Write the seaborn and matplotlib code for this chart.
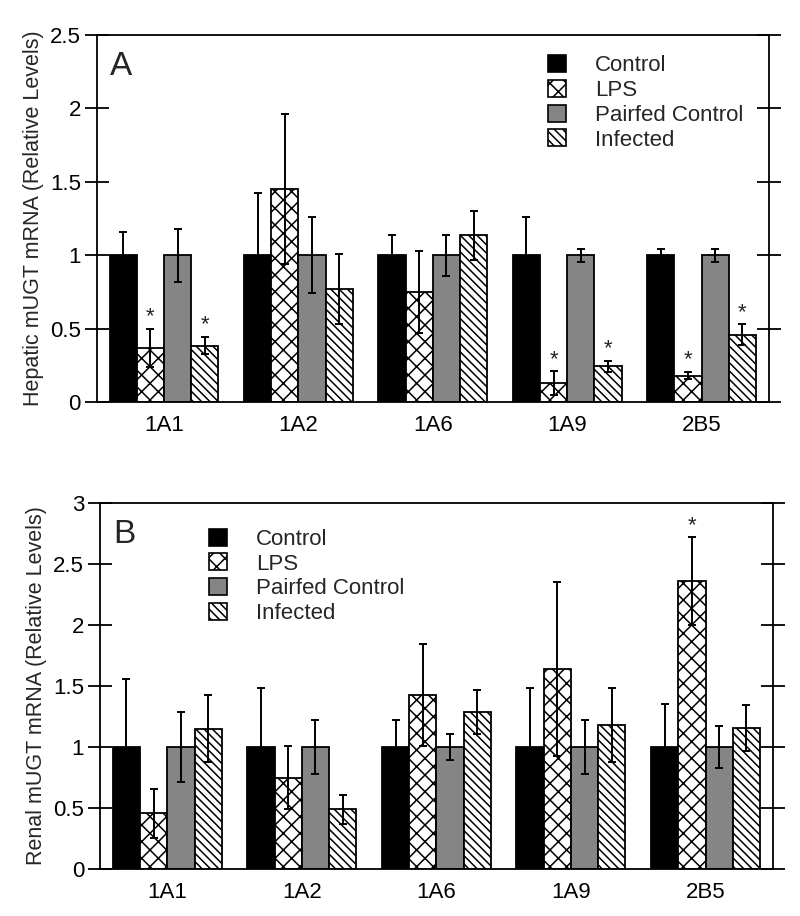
import numpy as np
import pandas as pd
import matplotlib
matplotlib.use("Agg")
import matplotlib.pyplot as plt
from matplotlib.patches import Patch
import seaborn as sns

# gene labels and treatment groups
genes = ["1A1", "1A2", "1A6", "1A9", "2B5"]
groups = ["Control", "LPS", "Pairfed Control", "Infected"]

# panel A: hepatic
hep_control = [1.0, 1.0, 1.0, 1.0, 1.0]
hep_control_err = [0.16, 0.42, 0.135, 0.26, 0.04]
hep_lps = [0.37, 1.45, 0.75, 0.13, 0.18]
hep_lps_err = [0.13, 0.51, 0.28, 0.08, 0.025]
hep_pairfed = [1.0, 1.0, 1.0, 1.0, 1.0]
hep_pairfed_err = [0.18, 0.26, 0.14, 0.045, 0.045]
hep_infected = [0.385, 0.77, 1.135, 0.245, 0.46]
hep_infected_err = [0.06, 0.235, 0.165, 0.038, 0.07]
hep_star_lps = ["1A1", "1A9", "2B5"]
hep_star_infected = ["1A1", "1A9", "2B5"]

# panel B: renal
ren_control = [1.0, 1.0, 1.0, 1.0, 1.0]
ren_control_err = [0.56, 0.48, 0.225, 0.48, 0.35]
ren_lps = [0.455, 0.75, 1.425, 1.64, 2.36]
ren_lps_err = [0.2, 0.26, 0.42, 0.71, 0.36]
ren_pairfed = [1.0, 1.0, 1.0, 1.0, 1.0]
ren_pairfed_err = [0.29, 0.225, 0.105, 0.225, 0.175]
ren_infected = [1.15, 0.49, 1.29, 1.18, 1.155]
ren_infected_err = [0.275, 0.12, 0.18, 0.305, 0.19]
ren_star_lps = ["2B5"]
ren_star_infected = []

colors = ["black", "white", "#858585", "white"]
hatches = [None, "xx", None, "\\\\\\\\"]

sns.set_style("ticks")
plt.rcParams["font.family"] = ["Liberation Sans", "DejaVu Sans"]
plt.rcParams["hatch.linewidth"] = 1.1
plt.rcParams["hatch.color"] = "black"


def draw_panel(ax, vals, errs, stars, ymax, yticks, ylabel, letter, leg_pos):
    df = pd.DataFrame({
        "gene": genes * 4,
        "group": [g for g in groups for _ in genes],
        "value": sum(vals, []),
        "err": sum(errs, []),
    })
    sns.barplot(data=df, x="gene", y="value", hue="group", order=genes,
                hue_order=groups, palette=colors, errorbar=None,
                width=0.81, gap=0, edgecolor="black", linewidth=1.3,
                legend=False, ax=ax)
    bar_conts = list(ax.containers)
    for i, cont in enumerate(bar_conts):
        sub = df[df["group"] == groups[i]]
        xs, tops = [], []
        for bar in cont:
            if hatches[i]:
                bar.set_hatch(hatches[i])
            xs.append(bar.get_x() + bar.get_width() / 2)
            tops.append(bar.get_height())
        ax.errorbar(xs, tops, yerr=sub["err"].values, fmt="none",
                    ecolor="black", elinewidth=1.4, capsize=3.2,
                    capthick=1.4, zorder=5)
        for gname, x, t, e in zip(sub["gene"], xs, tops, sub["err"]):
            if gname in stars.get(groups[i], []):
                ax.annotate("*", (x, t + e), xytext=(0, 1),
                            textcoords="offset points", ha="center",
                            va="bottom", fontsize=16)
    ax.set_xlim(-0.5, 4.5)
    ax.set_ylim(0, ymax)
    ax.set_yticks(yticks)
    ax.set_yticklabels([f"{t:g}" for t in yticks])
    ax.set_xlabel("")
    ax.set_ylabel(ylabel, fontsize=15.5, labelpad=4)
    for s in ax.spines.values():
        s.set_visible(True)
        s.set_linewidth(1.3)
        s.set_color("black")
    ax.tick_params(axis="y", direction="inout", length=17, width=1.3,
                   right=True, labelright=False, labelsize=16, pad=3,
                   colors="black")
    ax.tick_params(axis="x", length=0, labelsize=16, pad=9, colors="black")
    ax.text(0.02, 0.915, letter, transform=ax.transAxes, fontsize=24,
            va="center", ha="left")
    handles = [Patch(facecolor=c, edgecolor="black", hatch=h, linewidth=1.2)
               for c, h in zip(colors, hatches)]
    ax.legend(handles, groups, loc="upper left", bbox_to_anchor=leg_pos,
              frameon=False, fontsize=16, handlelength=0.8,
              handleheight=0.8, handletextpad=1.3, labelspacing=0.16,
              borderpad=0, borderaxespad=0)


fig = plt.figure(figsize=(8, 9.16), dpi=100)
ax_a = fig.add_axes([0.121, 0.561, 0.84, 0.401])
ax_b = fig.add_axes([0.125, 0.0513, 0.841, 0.3996])

draw_panel(ax_a,
           [hep_control, hep_lps, hep_pairfed, hep_infected],
           [hep_control_err, hep_lps_err, hep_pairfed_err, hep_infected_err],
           {"LPS": hep_star_lps, "Infected": hep_star_infected},
           2.5, [0, 0.5, 1, 1.5, 2, 2.5],
           "Hepatic mUGT mRNA (Relative Levels)", "A", (0.672, 0.945))
draw_panel(ax_b,
           [ren_control, ren_lps, ren_pairfed, ren_infected],
           [ren_control_err, ren_lps_err, ren_pairfed_err, ren_infected_err],
           {"LPS": ren_star_lps, "Infected": ren_star_infected},
           3, [0, 0.5, 1, 1.5, 2, 2.5, 3],
           "Renal mUGT mRNA (Relative Levels)", "B", (0.162, 0.93))

fig.savefig("out.png", dpi=100)
